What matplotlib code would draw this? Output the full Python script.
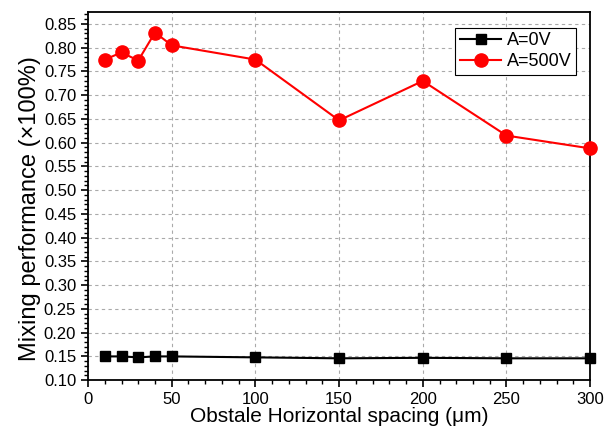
import numpy as np
import matplotlib
matplotlib.use('Agg')
import matplotlib.pyplot as plt
from matplotlib.ticker import MultipleLocator

plt.rcParams['font.family'] = ['Liberation Sans', 'DejaVu Sans']

# spacing values and mixing performance for the two voltages
spacing = [10, 20, 30, 40, 50, 100, 150, 200, 250, 300]
mix_0v = [0.150, 0.150, 0.148, 0.150, 0.150, 0.148, 0.146, 0.147, 0.146, 0.146]
mix_500v = [0.775, 0.790, 0.773, 0.832, 0.805, 0.775, 0.647, 0.730, 0.615, 0.588]

fig = plt.figure(figsize=(6.05, 4.32), dpi=100)
ax = fig.add_axes([0.1455, 0.12, 0.83, 0.852])

ax.plot(spacing, mix_0v, color='black', marker='s', markersize=7.5, linewidth=1.5, label='A=0V', clip_on=False, zorder=3)
ax.plot(spacing, mix_500v, color='red', marker='o', markersize=9.5, linewidth=1.5, label='A=500V', clip_on=False, zorder=3)

ax.set_xlim(0, 300)
ax.set_ylim(0.10, 0.875)
ax.xaxis.set_major_locator(MultipleLocator(50))
ax.xaxis.set_minor_locator(MultipleLocator(10))
ax.yaxis.set_major_locator(MultipleLocator(0.05))
ax.yaxis.set_minor_locator(MultipleLocator(0.01))
ax.yaxis.set_major_formatter(plt.FormatStrFormatter('%.2f'))

ax.grid(True, which='major', linestyle=(0, (3, 3)), color='#aaaaaa', linewidth=0.8)
ax.tick_params(which='major', direction='out', length=5, width=1.2, labelsize=12)
ax.tick_params(which='minor', direction='out', length=3, width=1.0)
for s in ax.spines.values():
    s.set_linewidth(1.3)

ax.set_xlabel('Obstale Horizontal spacing (\u03bcm)', fontsize=15, labelpad=0)
ax.set_ylabel('Mixing performance (\u00d7100%)', fontsize=17)
ax.yaxis.set_label_coords(-0.094, 0.465)

leg = ax.legend(loc='upper right', bbox_to_anchor=(0.972, 0.957), fontsize=13, fancybox=False,
                edgecolor='black', framealpha=1, handlelength=2.3, borderaxespad=0,
                borderpad=0.25, labelspacing=0.2, handletextpad=0.3)
leg.get_frame().set_linewidth(0.8)

plt.savefig('out.png', dpi=100)
